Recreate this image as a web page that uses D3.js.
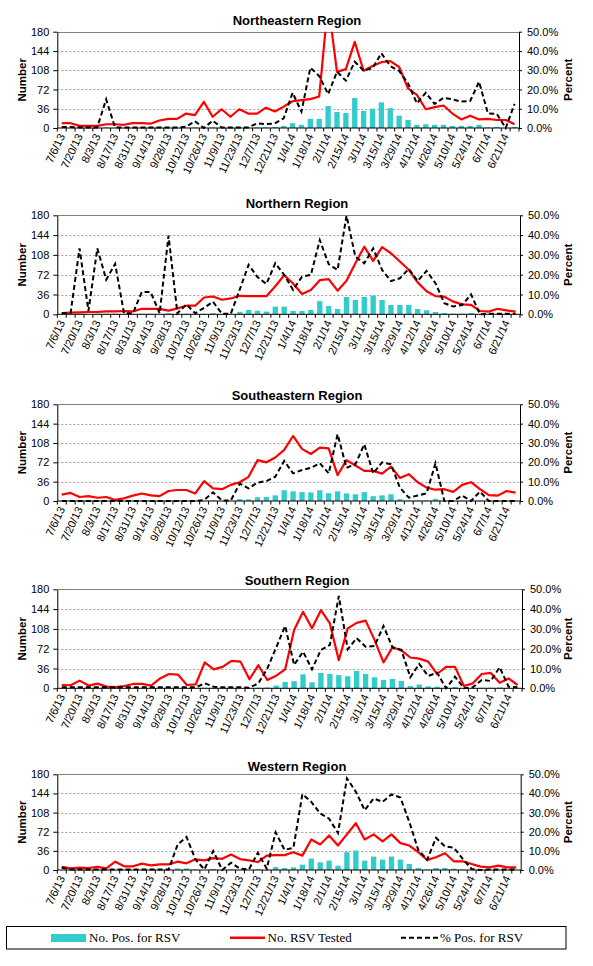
<!DOCTYPE html>
<html><head><meta charset="utf-8">
<script src="https://cdn.jsdelivr.net/npm/d3@7"></script>
<style>
html,body{margin:0;padding:0;background:#fff;}
svg{display:block;}
</style></head>
<body>
<script>
// ---------------- DATA ----------------
const weeks = ["7/6/13","7/13/13","7/20/13","7/27/13","8/3/13","8/10/13","8/17/13","8/24/13","8/31/13","9/7/13",
"9/14/13","9/21/13","9/28/13","10/5/13","10/12/13","10/19/13","10/26/13","11/2/13","11/9/13","11/16/13",
"11/23/13","11/30/13","12/7/13","12/14/13","12/21/13","12/28/13","1/4/14","1/11/14","1/18/14","1/25/14",
"2/1/14","2/8/14","2/15/14","2/22/14","3/1/14","3/8/14","3/15/14","3/22/14","3/29/14","4/5/14",
"4/12/14","4/19/14","4/26/14","5/3/14","5/10/14","5/17/14","5/24/14","5/31/14","6/7/14","6/14/14",
"6/21/14","6/28/14"];

const regionNames = ["Northeastern Region","Northern Region","Southeastern Region","Southern Region","Western Region"];

const testedNE = [9,9,4,4,4,7,7,6,9,9, 8,14,17,17,27,24,49,21,35,21, 35,27,27,38,31,40,50,52,54,59, 235,105,110,161,107,116,123,125,114,74, 62,35,39,42,27,16,23,16,17,15, 15,7];
const posNE = [0,0,0,0,0,1,0,0,0,0, 0,0,0,0,0,1,0,1,0,0, 0,0,1,1,2,4,9,6,17,17, 41,30,28,56,32,36,48,37,23,15, 6,7,6,6,4,4,4,6,1,2, 0,2];
const pctNE = [0.5,0.5,0.3,0.3,0.3,14.9,0.3,0.3,0.3,0.3, 0.3,0.3,0.3,0.3,0.7,3.5,0,3.8,0.3,0.3, 0.3,0.3,2.4,2,2.4,5,18.3,8.5,31.3,27, 17.6,29.2,24.6,34.4,29.8,31,38.8,32.2,29.6,23.2, 12.8,18.3,12.5,15.7,14.9,13.7,14,24,7.6,7.3, 0,12.5];

const testedN = [2.4,3,3.6,4.2,4.2,5.4,5.4,6,5.4,10, 10,10,6.6,10.8,15.6,15.6,30.6,32.4,26.4,28.8, 33.6,33,33,33,51,71,56,37,44,62, 64,43,61,93,123,97,122,111,96,81, 58,42,33,32,23,18,17,6,5,10, 7,5];
const posN = [0,0,1,0,1,1,1,0,0,1, 1,0,2,0,1,0,1,2,0,0, 4.5,8,6.5,5,14,14,6,6,8,24, 15,9.7,31.5,26,31.5,34,26,17,17,17, 9.7,7.3,4.2,2.4,1.2,1.2,2.4,0,0,0, 0,0];
const pctN = [0.5,0.8,33.3,1.7,33.3,17.5,25.5,0.5,0.5,11.3, 11.2,0.5,39.7,0.5,5,0.5,3.3,6.3,0.3,0.3, 12.5,25,18.8,15.3,25.8,19.9,12.3,19,19.9,37.5, 25.3,22.4,49.8,29.1,25.8,33.3,22.4,16.8,18.2,22.9, 16.8,21.9,15.7,5.6,3.9,4.7,10.1,0,0.3,0.3, 0.3,0.3];

const testedSE = [12,15,7.5,9,6,7.5,2,5,10,14, 10.5,9,18.6,20.5,20.5,14,37,23.6,22,30, 35,45,76,72,81,95,121,97,87.5,99.5, 98,48,76,66,56,56,51,64,43,50, 35,25,21,22,17,30,35,22,11,10, 18.6,15.5];
const posSE = [0,0,0,0,0,0,0,0,0,0, 0,0,0,0,0,0,0,1,0,0, 3.5,3,7,7.5,10.5,20,18,16.5,16,20, 14.5,18,14,12.5,16.5,9,10.5,12.5,3.5,1, 1,1,4,0,0,1,0,1,0,0, 0,0];
const pctSE = [0,0,0,0,0,0,0,0,0,0, 0,0,0,0,0,0,0.5,4.5,0.3,0.3, 9,6.5,9.5,10.3,12.6,20.7,14.3,16,17.2,19.5, 14.3,34.5,17.2,19,29.3,14.3,20,19,6.9,1.7, 2.8,4,19.5,0,0,2.8,0,4.8,0,0, 0,0];

const testedS = [6,5.5,14,5,8.5,3,2.4,4.2,7.9,7.9, 4.8,18,26,25,6,7.3,47,34.5,39,50, 48.5,16.4,42,15,23,34.5,106,139,109,142, 118,51,109,119,123,88,47,74.5,69,56, 54,48.5,26,39,39,4.2,9,26,28,10, 18,6];
const posS = [0,0,0,0,0,0,0,0,0,0, 0,0,0,0,0,0,1,0,0,0, 0,0,1,1.5,5,11.5,13,25.5,11,28, 26,24,22,31.5,26,20,15,17,13.5,4, 7,3.5,3,0,2.5,0,0,1,1,1.5, 0,0];
const pctS = [0.5,0.5,0.5,0.5,0.5,0.5,0.5,0.5,0.5,0.5, 0.5,0.5,0.5,0.5,0.5,0.5,2.5,0.8,0.5,0.5, 0.5,0.3,2.5,10,20.7,31.5,11.8,18.5,9.6,19.4, 21.9,46.6,19.7,25.3,21,21.4,31.5,20.7,19.4,5.6, 12.3,6.2,7.9,0,5.9,0,0.5,4.2,3.7,10.6, 0.8,0.5];

const testedW = [6,3,4.4,3.7,6,3,15.6,7,7,12, 8.7,10.6,10.6,15.6,12.5,20,18,22.4,21,29, 20.5,18,15,27,28,28,33.5,27,57.5,48, 65,46,67,88,57.5,67,54,67,50.5,46, 33.5,19,24,31.6,16.4,16.4,11.4,6.3,5,8.2, 5,5];
const posW = [0,0,0,0,0,0,0,0,0,0, 0,0,0,3,3,1,0,2,0,1, 0,0,1.5,0,5.5,3.8,5,10,21.5,14.5, 17.7,8.2,33.5,36.6,17.7,25.3,19.6,25.3,19.6,11.4, 3.8,1,3.8,3.8,2.5,1,0,0,0,0, 0,0];
const pctW = [1.2,0.3,0.3,0.3,0.3,0.3,0.3,0.3,0.3,0.3, 0.3,0.3,0.3,13.3,17.3,5.5,0.3,9.9,0,3.8, 0.7,0.3,9,0.7,19.7,10.5,11.6,39.6,35.6,29.5, 26.8,19.3,47.9,40.9,31.2,37.4,35.6,39.5,37.9,25.1, 10.5,5.3,16.8,12.3,11.6,5.8,0.5,0,0.3,0.3, 0.3,0.3];

const numberTicks = [0,36,72,108,144,180];
const percentTicks = [0,10,20,30,40,50];
const legendLabels = ["No. Pos. for RSV","No. RSV Tested","% Pos. for RSV"];

const seriesPos = [posNE,posN,posSE,posS,posW];
const seriesTested = [testedNE,testedN,testedSE,testedS,testedW];
const seriesPct = [pctNE,pctN,pctSE,pctS,pctW];

// ---------------- LAYOUT ----------------
const W = 593, H = 966;
const L = 57.3;
const tops = [31.7, 215.3, 404.3, 589.3, 774.3];
const bottoms = [128, 314.3, 501, 688.3, 870];
const rights = [519, 520, 520, 522, 520.7];
const titleY = [25, 207.7, 399.5, 585, 770.7];
const BAR = "#33CCCC", RED = "#FF0000";
const SANS = "'Liberation Sans', Arial, sans-serif";
const SERIF = "'Liberation Serif', 'Times New Roman', serif";

const svg = d3.select("body").append("svg").attr("width", W).attr("height", H)
  .style("font-family", SANS);
svg.append("rect").attr("width", W).attr("height", H).attr("fill", "#fff");

regionNames.forEach((name, p) => {
  const T = tops[p], B = bottoms[p], R = rights[p];
  const x = d3.scaleBand().domain(weeks).range([L, R]).paddingInner(0).paddingOuter(0);
  const bw = x.bandwidth();
  const cx = d => x(d) + bw / 2;
  const y = d3.scaleLinear().domain([0, 180]).range([B, T]);
  const yp = d3.scaleLinear().domain([0, 50]).range([B, T]);
  const g = svg.append("g");

  // gridlines
  g.selectAll(".grid").data(numberTicks.filter(v => v > 0 && v < 180)).enter().append("line")
    .attr("x1", L).attr("x2", R).attr("y1", d => Math.round(y(d)) + 0.5).attr("y2", d => Math.round(y(d)) + 0.5)
    .attr("stroke", "#a0a0a0").attr("stroke-width", 1).attr("stroke-dasharray", "2,2");
  g.append("line").attr("x1", L).attr("x2", R).attr("y1", Math.round(y(180)) + 0.5).attr("y2", Math.round(y(180)) + 0.5)
    .attr("stroke", "#808080").attr("stroke-width", 1);

  // bars
  const pos = seriesPos[p];
  g.selectAll(".bar").data(weeks).enter().append("rect")
    .attr("x", d => x(d) + bw * 0.2).attr("width", bw * 0.6)
    .attr("y", (d, i) => y(pos[i])).attr("height", (d, i) => B - y(pos[i]))
    .attr("fill", BAR);

  // clip for lines
  const cid = "clip" + p;
  svg.append("clipPath").attr("id", cid).append("rect")
    .attr("x", L - 5).attr("y", T).attr("width", R - L + 10).attr("height", B - T + 10);
  const lg = g.append("g").attr("clip-path", `url(#${cid})`);

  const tested = seriesTested[p];
  const pct = seriesPct[p];
  lg.append("path").datum(weeks)
    .attr("d", d3.line().x(d => cx(d)).y((d, i) => y(tested[i])))
    .attr("fill", "none").attr("stroke", RED).attr("stroke-width", 2.2).attr("stroke-linejoin", "round");
  lg.append("path").datum(weeks)
    .attr("d", d3.line().x(d => cx(d)).y((d, i) => yp(pct[i])))
    .attr("fill", "none").attr("stroke", "#000").attr("stroke-width", 2).attr("stroke-dasharray", "5,3");

  // left axis
  const ax = g.append("g").attr("transform", `translate(${L},0)`)
    .call(d3.axisLeft(y).tickValues(numberTicks).tickSize(4).tickSizeOuter(0).tickPadding(4));
  ax.attr("font-family", null).attr("font-size", null);
  ax.select(".domain").attr("stroke", "#000");
  ax.selectAll("text").style("font-size", "11px").style("font-family", SANS).attr("fill", "#000");
  ax.selectAll(".tick line").attr("stroke", "#000");

  // right axis
  const ar = g.append("g").attr("transform", `translate(${R},0)`)
    .call(d3.axisRight(yp).tickValues(percentTicks).tickSize(3).tickSizeOuter(0).tickPadding(5)
      .tickFormat(d => d.toFixed(1) + "%"));
  ar.attr("font-family", null).attr("font-size", null);
  ar.select(".domain").attr("stroke", "#000");
  ar.selectAll("text").style("font-size", "11px").style("font-family", SANS).attr("fill", "#000");
  ar.selectAll(".tick line").attr("stroke", "#000");

  // bottom axis line + ticks at band edges
  g.append("line").attr("x1", L).attr("x2", R).attr("y1", B).attr("y2", B).attr("stroke", "#000");
  const edges = weeks.map(d => x(d)).concat([R]);
  g.selectAll(".xt").data(edges).enter().append("line")
    .attr("x1", d => d).attr("x2", d => d)
    .attr("y1", B).attr("y2", B + 3.5).attr("stroke", "#000");

  // x labels every other week
  g.selectAll(".xl").data(weeks.filter((d, i) => i % 2 === 0)).enter().append("text")
    .attr("transform", d => `translate(${cx(d)},${B + 6.4}) rotate(-65)`)
    .attr("text-anchor", "end").attr("dy", "0.35em")
    .style("font-size", "11px").attr("fill", "#000").text(d => d);

  // title
  g.append("text").attr("x", 297).attr("y", titleY[p]).attr("text-anchor", "middle")
    .style("font-size", "13px").style("font-weight", "bold").attr("fill", "#000").text(name);

  // axis titles
  const my = (T + B) / 2;
  g.append("text").attr("transform", `translate(26,${my}) rotate(-90)`).attr("text-anchor", "middle")
    .style("font-size", "11.5px").style("font-weight", "bold").text("Number");
  g.append("text").attr("transform", `translate(572,${my}) rotate(-90)`).attr("text-anchor", "middle")
    .style("font-size", "11.5px").style("font-weight", "bold").text("Percent");
});

// ---------------- LEGEND ----------------
const lgd = svg.append("g");
lgd.append("rect").attr("x", 6.5).attr("y", 926.5).attr("width", 559.5).attr("height", 22.5)
  .attr("fill", "#fff").attr("stroke", "#000").attr("stroke-width", 1);
lgd.append("rect").attr("x", 51).attr("y", 934).attr("width", 35).attr("height", 8).attr("fill", BAR);
lgd.append("text").attr("x", 89).attr("y", 942).style("font-size", "13px").style("font-family", SERIF).text(legendLabels[0]);
lgd.append("line").attr("x1", 230).attr("x2", 265).attr("y1", 937.7).attr("y2", 937.7).attr("stroke", RED).attr("stroke-width", 2.5);
lgd.append("text").attr("x", 267.5).attr("y", 942).style("font-size", "13px").style("font-family", SERIF).text(legendLabels[1]);
lgd.append("line").attr("x1", 401).attr("x2", 438).attr("y1", 937.7).attr("y2", 937.7).attr("stroke", "#000").attr("stroke-width", 2).attr("stroke-dasharray", "5,3");
lgd.append("text").attr("x", 440).attr("y", 942).style("font-size", "13px").style("font-family", SERIF).text(legendLabels[2]);
</script>
</body></html>
